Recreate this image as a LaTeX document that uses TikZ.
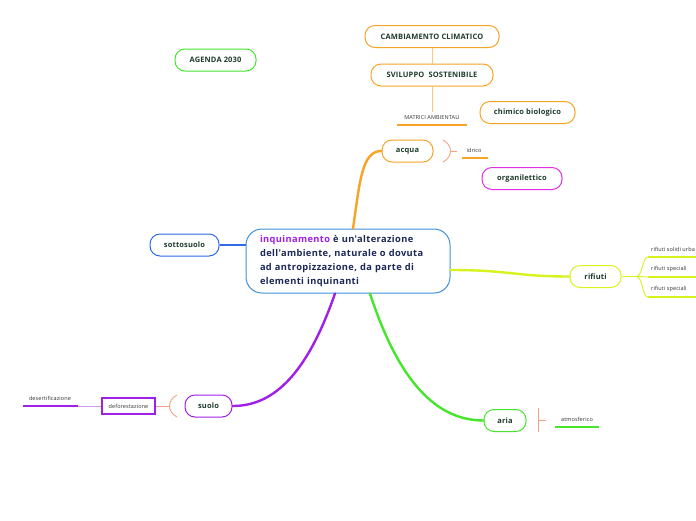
\documentclass[tikz,border=0pt]{standalone}
\usepackage{fontspec}
\setmainfont{Open Sans}
\newfontfamily\spaced[LetterSpace=4]{Open Sans}
\newfontfamily\spacedl[LetterSpace=2]{Open Sans}
\usetikzlibrary{calc}
\definecolor{orangeb}{HTML}{F7A325}
\definecolor{salmon}{HTML}{F0A482}
\definecolor{cblue}{HTML}{3F8FD8}
\definecolor{sblue}{HTML}{2F6BE6}
\definecolor{ygreen}{HTML}{D8F21E}
\definecolor{bgreen}{HTML}{45E62C}
\definecolor{purp}{HTML}{A21FEA}
\definecolor{lpurp}{HTML}{D49AF5}
\definecolor{magen}{HTML}{E22CE6}
\definecolor{txtg}{HTML}{1F3B2C}
\definecolor{txtc}{HTML}{1C2858}
\tikzset{
  topic/.style={draw, line width=1pt, rounded corners=10pt, minimum height=22pt, inner xsep=0pt,
    font=\spacedl\fontsize{7.5}{9}\selectfont\bfseries, text=txtg, fill=white},
  small/.style={font=\spacedl\fontsize{5.5}{7}\selectfont, text=black!80, inner sep=0pt},
  branch/.style={line width=2.4pt, line cap=round},
  uline/.style={line width=1.6pt},
}
\begin{document}
\begin{tikzpicture}[x=1pt,y=-1pt]
\clip (0,0) rectangle (696,520);
\fill[white] (0,0) rectangle (696,520);

% central
\node[draw=cblue, line width=1pt, rounded corners=16pt, minimum width=204pt, minimum height=64pt,
  text width=176pt, align=left, inner xsep=14pt, font=\spaced\fontsize{9.3}{14}\selectfont\bfseries, text=txtc]
  (c) at (348,261) {\textcolor{purp}{inquinamento} è un'alterazione\\dell'ambiente, naturale o dovuta\\ad antropizzazione, da parte di\\elementi inquinanti};

% top orange chain
\node[topic, draw=orangeb, minimum width=134pt] (cc) at (432,36.5) {CAMBIAMENTO CLIMATICO};
\node[topic, draw=orangeb, minimum width=122pt] (ss) at (432,75) {SVILUPPO\ \ SOSTENIBILE};
\node[small] (ma) at (432,118) {MATRICI AMBIENTALI};
\coordinate (maL) at (397,125);
\coordinate (maR) at (467,125);
\coordinate (maT) at (432,112);
\draw[orangeb!60, line width=0.6pt] (cc.south) -- (ss.north);
\draw[orangeb!60, line width=0.6pt] (ss.south) -- (maT);
\draw[orangeb, uline] (maL) -- (maR);
\node[topic, draw=orangeb, minimum width=95pt] (cb) at (527.5,112.5) {chimico biologico};

% AGENDA
\node[topic, draw=bgreen, minimum width=81pt] (ag) at (215.5,60) {AGENDA 2030};

% acqua
\node[topic, draw=orangeb, minimum width=51pt] (ac) at (407.5,151) {acqua};
\draw[branch, orangeb] ($(c.north)+(5,0)$) .. controls (360,180) and (362,151) .. (ac.west);
\coordinate (acb1) at (443,140);
\coordinate (acb2) at (443,162);
\coordinate (acbt) at (450.5,151);
\coordinate (acbt2) at (457,151);
\draw[salmon, line width=0.9pt] (acb1) .. controls (453,145) and (453,157) .. (acb2);
\draw[salmon, line width=0.9pt] (acbt) -- (acbt2);
\node[small] (id) at (474,150) {idrico};
\coordinate (idL) at (462,158);
\coordinate (idR) at (488,158);
\draw[orangeb, uline] (idL) -- (idR);

\node[topic, draw=magen, minimum width=80pt] (org) at (522,178.5) {organilettico};

% sottosuolo
\node[topic, draw=sblue, minimum width=69pt] (so) at (184.5,245) {sottosuolo};
\draw[sblue, line width=1.2pt] (so.east) -- (so.east -| c.west);

% rifiuti
\node[topic, draw=ygreen, minimum width=51pt] (ri) at (595.5,276.5) {rifiuti};
\draw[branch, ygreen] ($(c.east)+(0,9)$) .. controls (510,270) and (515,276.5) .. (ri.west);
\coordinate (rj) at (636,276.5);
\draw[ygreen, line width=0.9pt] (ri.east) -- (rj);
\foreach \yy/\t/\n in {257/rifiuti solidi urba/1, 277/rifiuti speciali/2, 297/rifiuti speciali/3}{
  \coordinate (r\n a) at (648,\yy);
  \coordinate (r\n b) at (700,\yy);
  \draw[ygreen, line width=0.9pt] (rj) .. controls (643,276.5) and (642,\yy) .. (r\n a);
  \draw[ygreen, uline] (r\n a) -- (r\n b);
  \node[small, anchor=west] (rt\n) at (651,\yy-8) {\t};
}

% aria
\node[topic, draw=bgreen, minimum width=42pt] (ar) at (505,420.5) {aria};
\draw[branch, bgreen] ($(c.south)+(22,0)$) .. controls (395,370) and (430,420.5) .. (ar.west);
\coordinate (ab1) at (538.5,408);
\coordinate (ab2) at (538.5,432);
\coordinate (abt) at (538.5,420);
\coordinate (abt2) at (546,420);
\draw[salmon, line width=0.9pt] (ab1) -- (ab2);
\draw[salmon, line width=0.9pt] (abt) -- (abt2);
\node[small] (at) at (577,419) {atmosferico};
\coordinate (atL) at (555,427);
\coordinate (atR) at (599,427);
\draw[bgreen, uline] (atL) -- (atR);

% suolo
\node[topic, draw=purp, minimum width=47pt] (su) at (208.5,406) {suolo};
\draw[branch, purp] ($(c.south)+(-13,0)$) .. controls (305,380) and (270,406) .. (su.east);
\coordinate (sb1) at (177,395);
\coordinate (sb2) at (177,417);
\coordinate (sbt) at (170,406);
\draw[salmon, line width=0.9pt] (sb1) .. controls (167,400) and (167,412) .. (sb2);
\node[draw=purp, line width=1.2pt, minimum width=53pt, minimum height=16pt, inner sep=0pt,
  font=\spacedl\fontsize{5.5}{7}\selectfont, text=black!80] (de) at (128.5,406) {deforestazione};
\draw[salmon, line width=0.9pt] (sbt) -- (de.east);
\node[small] (ds) at (50,398.5) {desertificazione};
\coordinate (dsL) at (23,406);
\coordinate (dsR) at (78,406);
\draw[lpurp, line width=0.9pt] (dsR) -- (de.west);
\draw[purp, uline] (dsL) -- (dsR);
\end{tikzpicture}
\end{document}
